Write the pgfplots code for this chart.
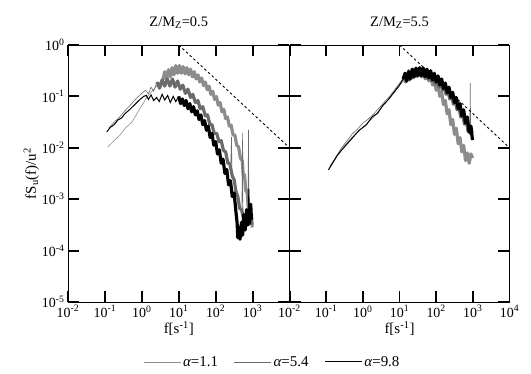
\documentclass[border=0pt]{standalone}
\usepackage{pgfplots}
\pgfplotsset{compat=1.18}
\usepackage{fontspec}
\setmainfont{Liberation Serif}
\begin{document}
\begin{tikzpicture}
\pgfplotsset{
  spec/.style={
    scale only axis, height=257bp,
    xmin=-2, xmax=4, ymin=-5, ymax=0,
    xtick={-2,-1,0,1,2,3,4}, ytick={-5,-4,-3,-2,-1,0},
    tick pos=both, tick align=inside,
    major tick length=11bp,
    axis line style={line width=0.9pt, black},
    major tick style={black, line width=2pt},
    tick label style={font=\fontsize{14}{16}\selectfont},
    title style={at={(0.5,1)}, anchor=south, font=\fontsize{14.5}{17}\selectfont, yshift=7bp},
    xlabel style={font=\fontsize{15}{18}\selectfont, yshift=3bp},
  },
  a1/.style={color=black!45, line width=0.6pt},
  a5/.style={color=black!58, line width=0.6pt},
  a9/.style={color=black, line width=1.0pt},
  band/.style={line width=3.2pt, line join=round},
  kol/.style={black, line width=0.9pt, dash pattern=on 2.5bp off 2.5bp},
}
\path[use as bounding box] (0,0) rectangle (531bp,374bp);
% ---------------- left panel ----------------
\begin{axis}[spec, at={(68bp,72bp)}, anchor=south west, width=221.5bp,
  title={Z/M\textsubscript{Z}=0.5},
  xlabel={f[s\textsuperscript{-1}]},
  ylabel={fS\textsubscript{u}(f)/u\textsuperscript{2}},
  ylabel style={font=\fontsize{15}{18}\selectfont, yshift=-4bp},
  xticklabels={10\textsuperscript{-2},10\textsuperscript{-1},10\textsuperscript{0},10\textsuperscript{1},10\textsuperscript{2},10\textsuperscript{3},{}},
  yticklabels={10\textsuperscript{-5},10\textsuperscript{-4},10\textsuperscript{-3},10\textsuperscript{-2},10\textsuperscript{-1},10\textsuperscript{0}},
  legend columns=3,
  legend style={draw=none, fill=none, at={(0.923,-0.233)}, anchor=center,
    font=\fontsize{15}{18}\selectfont, /tikz/every even column/.append style={column sep=14bp}},
  legend image code/.code={\draw[#1] (0bp,0bp) -- (37bp,0bp);},
]
% alpha = 1.1 (log10 f, log10 fS/u^2)
\addplot[a1] coordinates {
(-0.92,-1.98) (-0.75,-1.86) (-0.59,-1.75) (-0.45,-1.62) (-0.27,-1.50) (-0.15,-1.36)
(-0.05,-1.23) (0.05,-1.12) (0.14,-1.01) (0.25,-0.92) (0.35,-0.84) (0.45,-0.76) (0.57,-0.68)
};
\addlegendentry{{\itshape α}=1.1}
\addplot[a1, band, forget plot] coordinates {
(0.57,-0.68)
(0.62,-0.52) (0.67,-0.66) (0.72,-0.48) (0.77,-0.62) (0.82,-0.44) (0.87,-0.58) (0.92,-0.40)
(0.97,-0.55) (1.02,-0.40) (1.07,-0.55) (1.12,-0.42) (1.17,-0.56) (1.22,-0.44) (1.27,-0.58)
(1.32,-0.47) (1.37,-0.62) (1.42,-0.52) (1.47,-0.66) (1.52,-0.58) (1.57,-0.72) (1.62,-0.64)
(1.67,-0.79) (1.72,-0.72) (1.77,-0.87) (1.82,-0.80) (1.87,-0.96) (1.92,-0.90) (1.97,-1.06)
(2.02,-1.00) (2.07,-1.17) (2.12,-1.12) (2.17,-1.30) (2.22,-1.25) (2.27,-1.43) (2.32,-1.40)
(2.37,-1.58) (2.42,-1.56) (2.47,-1.75) (2.52,-1.75) (2.57,-1.95) (2.62,-1.98) (2.67,-2.20)
(2.72,-2.25) (2.75,-2.55) (2.78,-2.52) (2.82,-2.85) (2.85,-2.82) (2.88,-3.15) (2.91,-3.10)
(2.94,-3.45) (2.97,-3.30) (2.99,-3.55)
};
% alpha = 5.4
\addplot[a5] coordinates {
(-0.90,-1.62) (-0.75,-1.50) (-0.60,-1.40) (-0.46,-1.28) (-0.30,-1.16) (-0.15,-1.04)
(0.00,-0.94) (0.10,-0.88) (0.18,-0.95) (0.25,-0.82) (0.32,-0.90) (0.41,-0.72)
};
\addlegendentry{{\itshape α}=5.4}
\addplot[a5, band, forget plot] coordinates {
(0.41,-0.72) (0.48,-0.84)
(0.55,-0.68) (0.62,-0.80) (0.69,-0.66) (0.76,-0.80) (0.83,-0.66) (0.90,-0.82) (0.97,-0.70)
(1.04,-0.86) (1.11,-0.78) (1.18,-0.94) (1.25,-0.86) (1.32,-1.02) (1.38,-0.96) (1.45,-1.12)
(1.52,-1.08) (1.58,-1.24) (1.65,-1.20) (1.72,-1.38) (1.78,-1.36) (1.84,-1.54) (1.90,-1.55)
(1.96,-1.72) (2.03,-1.72) (2.09,-1.88) (2.15,-1.86) (2.21,-2.05) (2.27,-2.08) (2.33,-2.30)
(2.38,-2.30) (2.45,-2.55) (2.50,-2.62) (2.55,-2.85) (2.60,-2.95) (2.65,-3.18)
(2.70,-3.20) (2.75,-3.36) (2.80,-3.30) (2.84,-3.50) (2.91,-3.45)
(2.95,-3.30) (2.98,-3.50)
};
\addplot[a5, forget plot] coordinates {(2.41,-2.30) (2.43,-1.79) (2.44,-2.50)};
\addplot[a5, forget plot] coordinates {(2.71,-3.20) (2.73,-1.71) (2.74,-3.30)};
\addplot[a5, forget plot] coordinates {(2.87,-3.45) (2.89,-1.65) (2.90,-3.40)};
% alpha = 9.8
\addplot[a9] coordinates {
(-0.95,-1.69) (-0.85,-1.60) (-0.75,-1.55) (-0.65,-1.46) (-0.55,-1.42) (-0.45,-1.33)
(-0.35,-1.27) (-0.25,-1.20) (-0.15,-1.13) (-0.05,-1.06) (0.05,-1.00) (0.12,-0.98)
(0.18,-1.06) (0.25,-0.97) (0.32,-1.08) (0.40,-1.02) (0.47,-1.10) (0.55,-0.96) (0.62,-1.07)
(0.70,-0.98) (0.77,-1.12) (0.85,-1.00) (0.92,-1.10) (1.00,-1.00)
};
\addlegendentry{{\itshape α}=9.8}
\addplot[a9, band, forget plot] coordinates {
(1.00,-1.00) (1.05,-1.14) (1.10,-1.05)
(1.15,-1.18) (1.20,-1.08) (1.25,-1.24) (1.30,-1.14) (1.35,-1.30) (1.40,-1.20) (1.45,-1.36)
(1.50,-1.28) (1.55,-1.45) (1.60,-1.36) (1.65,-1.55) (1.70,-1.47) (1.75,-1.66) (1.80,-1.58)
(1.85,-1.80) (1.90,-1.72) (1.95,-1.95) (2.00,-1.88) (2.05,-2.12) (2.10,-2.04) (2.15,-2.30)
(2.20,-2.22) (2.25,-2.50) (2.30,-2.42) (2.35,-2.72) (2.40,-2.64) (2.45,-2.95) (2.50,-2.88)
(2.55,-3.25) (2.58,-3.45) (2.60,-3.75) (2.63,-3.55) (2.66,-3.78) (2.70,-3.45) (2.73,-3.70)
(2.76,-3.30) (2.80,-3.60) (2.84,-3.20) (2.87,-3.50) (2.92,-3.45) (2.95,-3.10)
(2.97,-3.40)
};
\addplot[a9, forget plot] coordinates {(2.88,-3.45) (2.90,-2.80) (2.91,-3.40)};
\addplot[kol, forget plot] coordinates {(1,0) (4,-2)};
\end{axis}
% ---------------- right panel ----------------
\begin{axis}[spec, at={(289.5bp,72bp)}, anchor=south west, width=220bp,
  title={Z/M\textsubscript{Z}=5.5},
  xlabel={f[s\textsuperscript{-1}]},
  xticklabels={10\textsuperscript{-2},10\textsuperscript{-1},10\textsuperscript{0},10\textsuperscript{1},10\textsuperscript{2},10\textsuperscript{3},10\textsuperscript{4}},
  yticklabels={},
]
\addplot[a1] coordinates {
(-0.92,-2.40) (-0.75,-2.22) (-0.60,-2.05) (-0.45,-1.92) (-0.30,-1.80) (-0.15,-1.70)
(0.00,-1.60) (0.15,-1.50) (0.30,-1.40) (0.45,-1.27) (0.60,-1.14) (0.75,-1.01) (0.90,-0.88)
(1.05,-0.75) (1.20,-0.62)
};
\addplot[a1, band] coordinates {
(1.20,-0.62) (1.25,-0.50) (1.30,-0.64) (1.35,-0.48) (1.40,-0.62) (1.45,-0.46)
(1.50,-0.60) (1.55,-0.46) (1.60,-0.62) (1.65,-0.48) (1.70,-0.66) (1.75,-0.52) (1.80,-0.70)
(1.85,-0.58) (1.90,-0.78) (1.95,-0.66) (2.00,-0.88) (2.05,-0.78) (2.10,-1.00) (2.15,-0.92)
(2.20,-1.16) (2.25,-1.08) (2.30,-1.34) (2.35,-1.26) (2.40,-1.55) (2.45,-1.45) (2.50,-1.74)
(2.55,-1.62) (2.60,-1.92) (2.65,-1.80) (2.70,-2.08) (2.75,-1.95) (2.80,-2.25) (2.85,-2.10)
(2.90,-2.30) (2.95,-2.12) (2.99,-2.20)
};
\addplot[a5] coordinates {
(-0.90,-2.36) (-0.75,-2.20) (-0.60,-2.02) (-0.45,-1.88) (-0.30,-1.74) (-0.15,-1.64)
(0.00,-1.52) (0.15,-1.44) (0.30,-1.34) (0.45,-1.22) (0.60,-1.10) (0.75,-0.98) (0.90,-0.84)
(1.05,-0.70) (1.12,-0.62)
};
\addplot[a5, band] coordinates {
(1.12,-0.62) (1.17,-0.72) (1.22,-0.56) (1.27,-0.68) (1.32,-0.50) (1.37,-0.64)
(1.42,-0.47) (1.47,-0.61) (1.52,-0.46) (1.57,-0.60) (1.62,-0.47) (1.67,-0.62) (1.72,-0.50)
(1.77,-0.66) (1.82,-0.54) (1.87,-0.70) (1.92,-0.60) (1.97,-0.76) (2.02,-0.66) (2.07,-0.82)
(2.12,-0.72) (2.17,-0.88) (2.22,-0.80) (2.27,-0.96) (2.32,-0.88) (2.37,-1.05) (2.42,-0.98)
(2.47,-1.15) (2.52,-1.08) (2.57,-1.26) (2.62,-1.20) (2.67,-1.40) (2.72,-1.32) (2.77,-1.54)
(2.82,-1.46) (2.87,-1.68) (2.91,-1.58) (2.95,-1.74) (2.98,-1.66)
};
\addplot[a5] coordinates {(2.92,-1.62) (2.93,-0.74) (2.94,-1.70)};
\addplot[a9] coordinates {
(-0.94,-2.43) (-0.70,-2.15) (-0.50,-1.98) (-0.30,-1.82) (-0.10,-1.66) (0.10,-1.55)
(0.25,-1.40) (0.40,-1.33) (0.55,-1.17) (0.70,-1.06) (0.85,-0.92) (1.00,-0.78) (1.10,-0.66)
};
\addplot[a9, band] coordinates {
(1.10,-0.66)
(1.15,-0.55) (1.20,-0.70) (1.25,-0.52) (1.30,-0.66) (1.35,-0.47) (1.40,-0.62) (1.45,-0.45)
(1.50,-0.60) (1.55,-0.44) (1.60,-0.60) (1.65,-0.45) (1.70,-0.62) (1.75,-0.47) (1.80,-0.64)
(1.85,-0.50) (1.90,-0.68) (1.95,-0.55) (2.00,-0.72) (2.05,-0.60) (2.10,-0.78) (2.15,-0.66)
(2.20,-0.85) (2.25,-0.74) (2.30,-0.93) (2.35,-0.82) (2.40,-1.02) (2.45,-0.92) (2.50,-1.12)
(2.55,-1.02) (2.60,-1.24) (2.65,-1.14) (2.70,-1.38) (2.75,-1.26) (2.80,-1.52) (2.85,-1.40)
(2.90,-1.70) (2.95,-1.58) (2.99,-1.85)
};
\addplot[kol] coordinates {(1,0) (4,-2)};
\end{axis}
\end{tikzpicture}
\end{document}
